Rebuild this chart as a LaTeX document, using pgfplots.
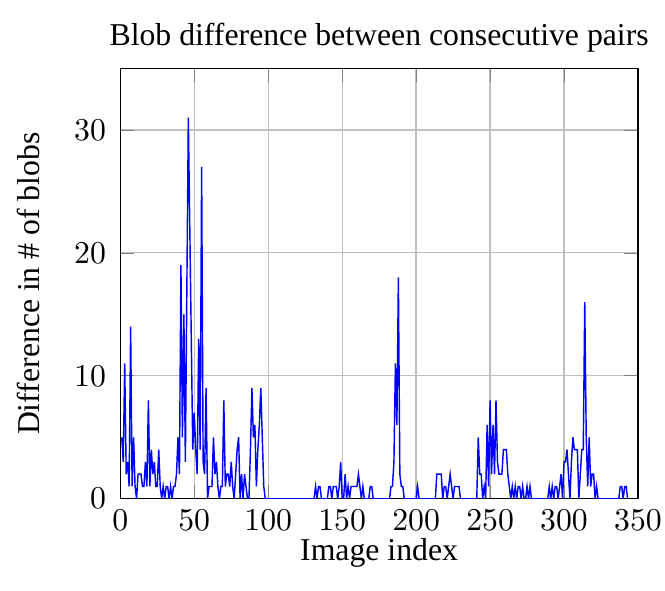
\documentclass[border=0pt]{standalone}
\usepackage{fontspec}
\setmainfont{Liberation Serif}
\usepackage{pgfplots}
\pgfplotsset{compat=1.18}
\begin{document}
\begin{tikzpicture}
\begin{axis}[
  scale only axis,
  width=163pt, height=135.5pt,
  xmin=0, xmax=350, ymin=0, ymax=35,
  xtick={0,50,100,150,200,250,300,350},
  ytick={0,10,20,30},
  grid=major,
  major grid style={gray!50, line width=0.4pt},
  title={Blob difference between consecutive pairs},
  title style={yshift=-4.5pt},
  xlabel={Image index},
  xlabel style={yshift=4.5pt},
  ylabel={Difference in \# of blobs},
  ylabel style={yshift=4pt},
  yticklabel style={xshift=-1pt},
  xticklabel style={inner xsep=1pt},
]
\addplot[blue, no markers, line width=0.45pt] coordinates {
(1,5)(2,3)(3,11)(4,2)(5,3)(6,1)(7,14)(8,1)(9,5)(10,1)
(11,0)(12,2)(13,2)(14,2)(15,1)(16,1)(17,3)(18,1)(19,8)(20,1)
(21,4)(22,2)(23,3)(24,1)(25,1)(26,4)(27,1)(28,0)(29,1)(30,0)
(31,1)(32,1)(33,0)(34,1)(35,0)(36,1)(37,1)(38,2)(39,5)(40,2)
(41,19)(42,5)(43,15)(44,3)(45,17)(46,31)(47,22)(48,13)(49,4)(50,7)
(51,4)(52,2)(53,13)(54,4)(55,27)(56,3)(57,2)(58,9)(59,0)(60,1)
(61,1)(62,1)(63,5)(64,2)(65,3)(66,1)(67,0)(68,1)(69,1)(70,8)
(71,1)(72,2)(73,2)(74,1)(75,3)(76,1)(77,0)(78,2)(79,4)(80,5)
(81,0)(82,2)(83,0)(84,2)(85,1)(86,0)(87,0)(88,4)(89,9)(90,5)
(91,6)(92,1)(93,4)(94,6)(95,9)(96,5)(97,1)(98,0)(99,0)(100,0)
(101,0)(102,0)(103,0)(104,0)(105,0)(106,0)(107,0)(108,0)(109,0)(110,0)
(111,0)(112,0)(113,0)(114,0)(115,0)(116,0)(117,0)(118,0)(119,0)(120,0)
(121,0)(122,0)(123,0)(124,0)(125,0)(126,0)(127,0)(128,0)(129,0)(130,0)
(131,0)(132,1)(133,0)(134,1)(135,1)(136,0)(137,0)(138,0)(139,0)(140,0)
(141,1)(142,1)(143,0)(144,1)(145,1)(146,1)(147,0)(148,1)(149,3)(150,0)
(151,0)(152,2)(153,0)(154,1)(155,0)(156,1)(157,1)(158,1)(159,1)(160,1)
(161,2)(162,1)(163,0)(164,1)(165,0)(166,0)(167,0)(168,0)(169,1)(170,1)
(171,0)(172,0)(173,0)(174,0)(175,0)(176,0)(177,0)(178,0)(179,0)(180,0)
(181,0)(182,0)(183,1)(184,1)(185,3)(186,11)(187,6)(188,18)(189,2)(190,1)
(191,1)(192,0)(193,0)(194,0)(195,0)(196,0)(197,0)(198,0)(199,0)(200,0)
(201,1)(202,0)(203,0)(204,0)(205,0)(206,0)(207,0)(208,0)(209,0)(210,0)
(211,0)(212,0)(213,0)(214,2)(215,2)(216,2)(217,2)(218,0)(219,1)(220,1)
(221,0)(222,1)(223,2)(224,1)(225,0)(226,1)(227,1)(228,1)(229,1)(230,0)
(231,0)(232,0)(233,0)(234,0)(235,0)(236,0)(237,0)(238,0)(239,0)(240,0)
(241,0)(242,5)(243,2)(244,2)(245,0)(246,1)(247,0)(248,6)(249,1)(250,8)
(251,2)(252,6)(253,2)(254,8)(255,3)(256,2)(257,2)(258,2)(259,4)(260,4)
(261,4)(262,2)(263,1)(264,0)(265,1)(266,0)(267,1)(268,0)(269,1)(270,1)
(271,0)(272,1)(273,0)(274,0)(275,1)(276,0)(277,1)(278,0)(279,0)(280,0)
(281,0)(282,0)(283,0)(284,0)(285,0)(286,0)(287,0)(288,0)(289,0)(290,1)
(291,0)(292,1)(293,0)(294,1)(295,1)(296,0)(297,1)(298,2)(299,0)(300,3)
(301,3)(302,4)(303,2)(304,0)(305,3)(306,5)(307,4)(308,4)(309,4)(310,0)
(311,2)(312,4)(313,4)(314,16)(315,5)(316,1)(317,5)(318,1)(319,2)(320,2)
(321,0)(322,1)(323,0)(324,0)(325,0)(326,0)(327,0)(328,0)(329,0)(330,0)
(331,0)(332,0)(333,0)(334,0)(335,0)(336,0)(337,0)(338,1)(339,1)(340,0)
(341,1)(342,1)(343,0)
};
\end{axis}
\path ([yshift=4pt]current bounding box.north) ([yshift=-4pt]current bounding box.south) ([xshift=-2pt]current bounding box.west);
\end{tikzpicture}
\end{document}
